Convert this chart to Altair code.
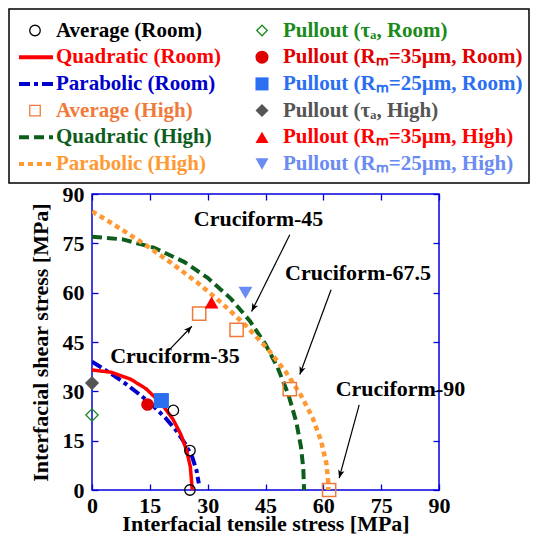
import altair as alt
import pandas as pd

# ---------------- data ----------------
# fitted failure envelopes
quad_room_x = [0, 5, 10, 14, 18, 21, 23, 24.5, 25.5, 26.0]
quad_room_y = [36.5, 35.8, 33.7, 30.8, 26.3, 21.5, 17.0, 12.2, 7.1, 0]
para_room_x = [0, 2.8, 5.4, 9.1, 12.4, 15.5, 19.0, 21.9, 24.2, 26.0, 27.1, 27.7]
para_room_y = [39, 37, 35, 32, 29, 26, 22, 18, 14, 10, 6, 2]
quad_high_x = [0, 8, 16, 24, 30, 36, 41, 45, 48, 51, 53, 54.2, 54.8, 55.0]
quad_high_y = [77, 76.2, 73.7, 69.3, 64.5, 58.2, 51.3, 44.3, 37.6, 28.8, 20.6, 13.1, 6.6, 0]
para_high_x = [0, 3.9, 9.3, 14.5, 20.6, 27.4, 33.5, 39.9, 45.5, 50.2, 54.1, 57.2, 59.4, 60.8, 61.3, 61.3]
para_high_y = [84.7, 82, 78, 74, 69, 63, 57, 50, 43, 36, 29, 22, 15, 8, 2, 0]

# measured points
avg_room_x = [25.4, 25.4, 21.1]
avg_room_y = [0, 12.0, 24.2]
avg_high_x = [27.8, 37.5, 51.3, 61.5]
avg_high_y = [53.6, 48.7, 30.7, 0]
po_ta_room = (0, 22.8)
po_35_room = (14.4, 26.0)
po_25_room = (18.0, 27.2)
po_ta_high = (0, 32.5)
po_35_high = (31.0, 57.0)
po_25_high = (39.8, 60.0)

# annotations
ann_text = ["Cruciform-45", "Cruciform-67.5", "Cruciform-35", "Cruciform-90"]
ann_tx = [43.2, 69.0, 21.5, 80.0]
ann_ty = [82.4, 66.0, 40.7, 30.7]
arr_x0 = [51.3, 62.0, 19.8, 69.3]
arr_y0 = [77.6, 60.9, 42.3, 25.9]
arr_x1 = [41.4, 53.9, 25.9, 64.1]
arr_y1 = [54.3, 35.1, 49.8, 3.6]
arr_angle = [206.6, 200.1, 43.5, 195.5]

ticks = [0, 15, 30, 45, 60, 75, 90]

# legend
leg_labels = [
    "Average (Room)", "Quadratic (Room)", "Parabolic (Room)",
    "Average (High)", "Quadratic (High)", "Parabolic (High)",
    "Pullout (τₐ, Room)", "Pullout (Rₘ=35µm, Room)", "Pullout (Rₘ=25µm, Room)",
    "Pullout (τₐ, High)", "Pullout (Rₘ=35µm, High)", "Pullout (Rₘ=25µm, High)",
]
leg_col = [0, 0, 0, 0, 0, 0, 1, 1, 1, 1, 1, 1]
leg_row = [0, 1, 2, 3, 4, 5, 0, 1, 2, 3, 4, 5]
leg_kind = ["open", "line", "line", "open", "line", "line",
            "open", "filled", "filled", "filled", "filled", "filled"]

# ---------------- styles ----------------
FONT = "Liberation Serif"
AX = "#0000dd"
C_BLACK = "#000000"
C_RED = "#ff0000"
C_BLUE = "#0000cc"
C_ORSQ = "#f07a3a"
C_GREEN = "#0d5e1d"
C_ORANGE = "#ff9933"
C_GREEN2 = "#1a8a1a"
C_RED2 = "#e00000"
C_BLUE2 = "#2a6ef2"
C_GREY = "#555555"
C_LBLUE = "#6a8cf2"
leg_colors = [C_BLACK, C_RED, C_BLUE, C_ORSQ, C_GREEN, C_ORANGE,
              C_GREEN2, C_RED2, C_BLUE2, C_GREY, C_RED, C_LBLUE]
leg_shapes = ["circle", "stroke", "stroke", "square", "stroke", "stroke",
              "diamond", "circle", "square", "diamond", "triangle-up", "triangle-down"]
leg_dashes = [[1, 0], [1, 0], [11, 4, 4, 4], [1, 0], [10, 5], [5, 4],
              [1, 0], [1, 0], [1, 0], [1, 0], [1, 0], [1, 0]]

XS = alt.Scale(domain=[0, 90], nice=False, zero=False)
YS = alt.Scale(domain=[0, 90], nice=False, zero=False)


def ax(orient, title=None, labels=True):
    kw = dict(values=ticks, orient=orient, offset=-6, tickSize=6, tickColor=AX,
              tickWidth=1.3, domain=False, grid=False, labels=labels,
              labelFlush=False, labelOverlap=False,
              labelFont=FONT, labelFontSize=22, labelFontWeight="bold",
              labelColor="black", titleFont=FONT, titleFontSize=22,
              titleFontWeight="bold", titleColor="black")
    kw["title"] = title if title is not None else ""
    if orient == "bottom":
        kw.update(labelPadding=5, titlePadding=-3)
    if orient == "left":
        kw.update(labelPadding=8, titlePadding=10)
    return alt.Axis(**kw)


def cdf(xs, ys):
    return pd.DataFrame({"x": xs, "y": ys, "i": list(range(len(xs)))})


def xq(field="x"):
    return alt.X(f"{field}:Q", scale=XS, axis=None)


def yq(field="y"):
    return alt.Y(f"{field}:Q", scale=YS, axis=None)


# axes layers (bottom/left with labels, top/right mirrored ticks)
axes_main = alt.Chart(cdf(avg_room_x, avg_room_y)).mark_point(opacity=0).encode(
    x=alt.X("x:Q", scale=XS, axis=ax("bottom", "Interfacial tensile stress [MPa]")),
    y=alt.Y("y:Q", scale=YS, axis=ax("left", "Interfacial shear stress [MPa]")),
)
axes_mirror = alt.Chart(cdf(avg_room_x, avg_room_y)).mark_point(opacity=0).encode(
    x=alt.X("x:Q", scale=XS, axis=ax("top", None, labels=False)),
    y=alt.Y("y:Q", scale=YS, axis=ax("right", None, labels=False)),
)


def curve(xs, ys, color, dash, width=4):
    return alt.Chart(cdf(xs, ys)).mark_line(
        color=color, strokeDash=dash, strokeWidth=width, clip=True
    ).encode(x=xq(), y=yq(), order="i:Q")


l_para_room = curve(para_room_x, para_room_y, C_BLUE, [11, 4, 4, 4])
l_quad_room = curve(quad_room_x, quad_room_y, C_RED, [1, 0], 3.5)
l_quad_high = curve(quad_high_x, quad_high_y, C_GREEN, [10, 5])
l_para_high = curve(para_high_x, para_high_y, C_ORANGE, [5, 4], 4.5)


def pts(xs, ys, shape, color, size, filled, sw=1.3):
    return alt.Chart(cdf(xs, ys)).mark_point(
        shape=shape, color=color, size=size, filled=filled, strokeWidth=sw,
        opacity=1, clip=False
    ).encode(x=xq(), y=yq())


p_avg_room = pts(avg_room_x, avg_room_y, "circle", C_BLACK, 110, False)
p_avg_high = pts(avg_high_x, avg_high_y, "square", C_ORSQ, 175, False, 1.5)
p_ta_room = pts([po_ta_room[0]], [po_ta_room[1]], "diamond", C_GREEN2, 150, False)
p_35_room = pts([po_35_room[0]], [po_35_room[1]], "circle", C_RED2, 160, True)
p_25_room = pts([po_25_room[0]], [po_25_room[1]], "square", C_BLUE2, 225, True)
p_ta_high = pts([po_ta_high[0]], [po_ta_high[1]], "diamond", C_GREY, 200, True)
p_35_high = pts([po_35_high[0]], [po_35_high[1]], "triangle-up", C_RED, 190, True)
p_25_high = pts([po_25_high[0]], [po_25_high[1]], "triangle-down", C_LBLUE, 190, True)

ann_df = pd.DataFrame({
    "t": ann_text, "tx": ann_tx, "ty": ann_ty,
    "x0": arr_x0, "y0": arr_y0, "x1": arr_x1, "y1": arr_y1, "ang": arr_angle,
})
arr_lines = alt.Chart(ann_df).mark_rule(color="black", strokeWidth=1.2).encode(
    x=xq("x0"), y=yq("y0"), x2="x1:Q", y2="y1:Q"
)
arr_heads = alt.Chart(ann_df).mark_point(
    shape="M0,0L-0.4,1L0,0.75L0.4,1Z", filled=True, color="black", size=260,
    opacity=1, clip=False
).encode(x=xq("x1"), y=yq("y1"), angle=alt.Angle("ang:Q", scale=None))
ann_txt = alt.Chart(ann_df).mark_text(
    font=FONT, fontSize=22, fontWeight="bold", color="black",
    align="center", baseline="middle", clip=False
).encode(x=xq("tx"), y=yq("ty"), text="t:N")

main = alt.layer(
    axes_main, axes_mirror,
    l_para_room, l_quad_room, l_quad_high, l_para_high,
    p_avg_room, p_avg_high, p_ta_room, p_35_room, p_25_room,
    p_ta_high, p_35_high, p_25_high,
    arr_lines, arr_heads, ann_txt,
).resolve_axis(x="independent", y="independent").properties(
    width=347, height=296,
    view=alt.ViewBackground(stroke=AX, strokeWidth=1.5),
)

# ---------------- legend panel ----------------
leg_df = pd.DataFrame({
    "label": leg_labels, "col": leg_col, "row": leg_row, "kind": leg_kind,
})
LX = alt.Scale(domain=[0, 1], range=[-57, 170])
LY = alt.Scale(domain=[0, 5], range=[21.5, 155])
LC = alt.Scale(domain=leg_labels, range=leg_colors)
LS = alt.Scale(domain=leg_labels, range=leg_shapes)
LD = alt.Scale(domain=leg_labels, range=leg_dashes)

lx = alt.X("col:Q", scale=LX, axis=None)
ly = alt.Y("row:Q", scale=LY, axis=None)
lcol = alt.Color("label:N", scale=LC, legend=None)

leg_box = alt.Chart(leg_df.head(1)).mark_rect(
    fill=None, stroke="black", strokeWidth=1.5
).encode(x=alt.value(-83), x2=alt.value(437), y=alt.value(0), y2=alt.value(174))

leg_lines = alt.Chart(leg_df).transform_filter("datum.kind == 'line'").mark_rule(
    strokeWidth=4, xOffset=-16, x2Offset=18
).encode(x=lx, x2="col:Q", y=ly, color=lcol,
         strokeDash=alt.StrokeDash("label:N", scale=LD, legend=None))

leg_open = alt.Chart(leg_df).transform_filter("datum.kind == 'open'").mark_point(
    filled=False, size=110, strokeWidth=1.3, opacity=1
).encode(x=lx, y=ly, color=lcol,
         shape=alt.Shape("label:N", scale=LS, legend=None))

leg_filled = alt.Chart(leg_df).transform_filter("datum.kind == 'filled'").mark_point(
    filled=True, size=170, opacity=1
).encode(x=lx, y=ly, color=lcol,
         shape=alt.Shape("label:N", scale=LS, legend=None))

leg_text = alt.Chart(leg_df).mark_text(
    align="left", baseline="middle", dx=21, font=FONT, fontSize=21,
    fontWeight="bold"
).encode(x=lx, y=ly, text="label:N", color=lcol)

legend = alt.layer(leg_box, leg_lines, leg_open, leg_filled, leg_text).properties(
    width=347, height=174,
    view=alt.ViewBackground(stroke=None),
)

chart = alt.vconcat(legend, main, spacing=-2).properties(
    padding={"left": 0, "top": 0, "right": 0, "bottom": 0},
).configure_view(stroke=None)

chart.save("out.html", embed_options={"renderer": "svg", "actions": False})
